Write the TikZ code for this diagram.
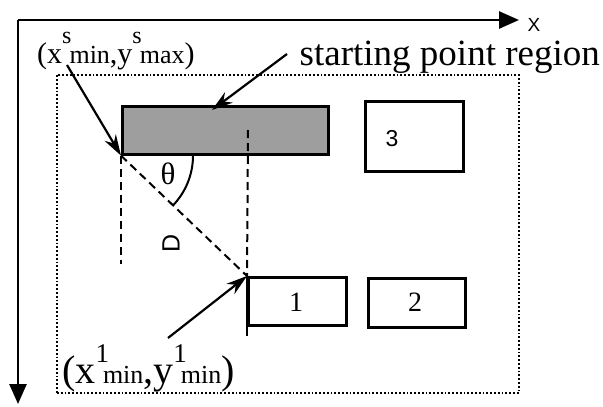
\documentclass[tikz,border=0pt]{standalone}
\usepackage{fontspec}
\setmainfont{Liberation Serif}
\newfontfamily\sansf{Liberation Sans}
\usetikzlibrary{arrows.meta}
\tikzset{
  axis/.style={line width=2.6pt,-{Triangle[length=20pt,width=17pt]}},
  region/.style={draw,dotted,line width=1.8pt,anchor=north west,inner sep=0pt},
  boxn/.style={draw,line width=2.6pt,anchor=north west,inner sep=0pt},
  shade/.style={boxn,fill=black!38},
  dashln/.style={line width=2pt,dash pattern=on 8pt off 5pt},
  ptr/.style={line width=2.2pt,-{Stealth[length=21pt,width=13pt]}},
  lbl/.style={inner sep=0pt,anchor=base west},
}
\newcommand{\fs}[2]{{\fontsize{#1}{#1}\selectfont #2}}
\begin{document}
\begin{tikzpicture}[x=1pt,y=-1pt]
\useasboundingbox (0,0) rectangle (603,407);
% axes
\coordinate (O) at (18,20);
\coordinate (XE) at (519,20);
\coordinate (YE) at (18,404);
\draw[axis] (O) -- (XE);
\draw[axis] (O) -- (YE);
\node[font=\sansf\fontsize{19}{19}\selectfont,inner sep=0pt] (xl) at (534,25) {X};
% region and boxes
\node[region,minimum width=462pt,minimum height=318pt] (reg) at (56,74) {};
\node[shade,minimum width=206pt,minimum height=48pt] (s) at (121,105) {};
\node[boxn,minimum width=98pt,minimum height=70pt] (b3) at (364,100) {};
\node[boxn,minimum width=98pt,minimum height=48pt] (b1) at (247,276) {};
\node[boxn,minimum width=97pt,minimum height=49pt] (b2) at (367,277) {};
\node[font=\sansf\fontsize{23}{23}\selectfont] (t3) at (392,139) {3};
\node[font=\fontsize{28}{28}\selectfont] (t1) at (296,302) {1};
\node[font=\fontsize{28}{28}\selectfont] (t2) at (415,302) {2};
% dashed construction
\coordinate (d1) at (121,264);
\coordinate (d2) at (248,130);
\coordinate (b1x) at (247,336);
\draw[dashln] (s.south west) -- (d1);
\draw[dashln] (d2) -- (b1.north west);
\draw[dashln] (s.south west) -- (b1.north west);
\draw[line width=2.6pt] (b1.north west) -- (b1x);
\draw[line width=2pt] (s.south west) ++(72,0) arc[start angle=0,end angle=44,radius=72];
\node[font=\fontsize{31}{31}\selectfont] (th) at (168,174) {θ};
\node[font=\sansf\fontsize{25}{25}\selectfont,rotate=90] (dl) at (171,243) {D};
% labels
\node[lbl] (ls) at (37,63)
  {\fs{30}{(x\raisebox{20pt}{\fs{24}{s}}\kern-2pt\fs{26}{min},y\raisebox{20pt}{\fs{24}{s}}\kern-2pt\fs{26}{max})}};
\node[inner sep=0pt,anchor=base east,font=\fontsize{37}{37}\selectfont] (lr) at (600,65) {starting point region};
\node[lbl] (lb) at (62,383)
  {\fs{40}{(x\raisebox{21pt}{\fs{27}{1}}\kern-6pt\fs{26}{min},y\raisebox{21pt}{\fs{27}{1}}\kern-6pt\fs{26}{min})}};
% pointers
\coordinate (a1) at (67,65);
\coordinate (a2) at (287,54);
\coordinate (a2t) at (212,110);
\coordinate (a3) at (168,338);
\draw[ptr] (a1) -- (s.south west);
\draw[ptr] (a2) -- (a2t);
\draw[ptr] (a3) -- (b1.north west);
\end{tikzpicture}
\end{document}
